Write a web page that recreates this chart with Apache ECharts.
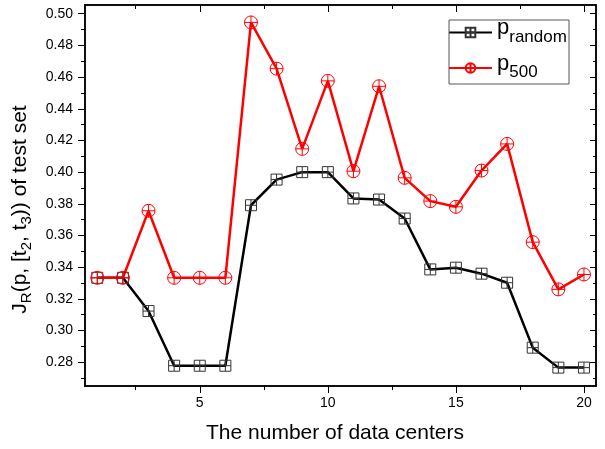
<!DOCTYPE html>
<html>
<head>
<meta charset="utf-8">
<script src="https://cdn.jsdelivr.net/npm/echarts@6/dist/echarts.min.js"></script>
<style>html,body{margin:0;padding:0;background:#fff}#c{width:605px;height:449px}</style>
</head>
<body>
<div id="c"></div>
<script>
var xValues = [1,2,3,4,5,6,7,8,9,10,11,12,13,14,15,16,17,18,19,20];
var pRandom = [0.3333,0.3333,0.3123,0.2778,0.2778,0.2778,0.3791,0.3953,0.4000,0.4000,0.3834,0.3827,0.3707,0.3386,0.3397,0.3359,0.3302,0.2892,0.2766,0.2766];
var p500 = [0.3333,0.3333,0.3756,0.3333,0.3333,0.3333,0.4945,0.4653,0.4147,0.4576,0.4006,0.4542,0.3964,0.3817,0.3781,0.4010,0.4178,0.3558,0.3260,0.3354];
var xMajorTicks = [5,10,15,20];
var xMinorTicks = [2.5,7.5,12.5,17.5];
var yMajorTicks = [0.28,0.30,0.32,0.34,0.36,0.38,0.40,0.42,0.44,0.46,0.48,0.50];
var yMinorTicks = [0.27,0.29,0.31,0.33,0.35,0.37,0.39,0.41,0.43,0.45,0.47,0.49];

var FONT = 'Liberation Sans, Arial, sans-serif';
var XMIN = 0.52, XMAX = 20.47, YMIN = 0.265, YMAX = 0.5055;

function pairs(ys){ return xValues.map(function(x,i){ return [x, ys[i]]; }); }

function xAx(pos, ticks, len, inside, labels){
  var o = {
    type:'value', position:pos, min:XMIN, max:XMAX, gridIndex:0,
    axisLine:{show:true, onZero:false, lineStyle:{color:'#000', width:1.5}},
    axisTick:{show:true, customValues:ticks, length:len, inside:inside, lineStyle:{color:'#000', width:1}},
    axisLabel:{show:false},
    splitLine:{show:false}
  };
  if (labels) {
    o.axisLabel = {show:true, customValues:ticks, margin:10, fontSize:14, color:'#000', fontFamily:FONT};
    o.name = 'The number of data centers';
    o.nameLocation = 'middle';
    o.nameGap = 37;
    o.nameTextStyle = {fontSize:21, color:'#000', fontFamily:FONT, padding:[0,11,0,0]};
  }
  return o;
}
function yAx(pos, ticks, len, inside, labels){
  var o = {
    type:'value', position:pos, min:YMIN, max:YMAX, gridIndex:0,
    axisLine:{show:true, onZero:false, lineStyle:{color:'#000', width:1.5}},
    axisTick:{show:true, customValues:ticks, length:len, inside:inside, lineStyle:{color:'#000', width:1}},
    axisLabel:{show:false},
    splitLine:{show:false}
  };
  if (labels) {
    o.axisLabel = {show:true, customValues:ticks, margin:12, fontSize:14, color:'#000', fontFamily:FONT,
      formatter:function(v){ return v.toFixed(2); }};
    o.name = '{a|J}{b|R}{a|(p, [t}{b|2}{a|, t}{b|3}{a|)) of test set}';
    o.nameLocation = 'middle';
    o.nameRotate = 90;
    o.nameGap = 43;
    o.nameTextStyle = {fontFamily:FONT, color:'#000', padding:[0,28,0,0],
      rich:{
        a:{fontSize:21, color:'#000', fontFamily:FONT},
        b:{fontSize:15, color:'#000', fontFamily:FONT, padding:[14,0,0,0]}
      }};
  }
  return o;
}

var squarePath = 'path://M0,0L10,0L10,10L0,10ZM5,0L5,10M0,5L10,5';
var circlePath = 'path://M10,5A5,5,0,1,1,0,5A5,5,0,1,1,10,5ZM5,0L5,10M0,5L10,5';

var chart = echarts.init(document.getElementById('c'), null, {renderer:'canvas'});
chart.setOption({
  animation:false,
  backgroundColor:'#fff',
  grid:{left:85, top:5, right:9, bottom:62, containLabel:false},
  xAxis:[
    xAx('bottom', xMajorTicks, 7, false, true),
    xAx('bottom', xMinorTicks, 4, false, false),
    xAx('top', xMajorTicks, 7, true, false),
    xAx('top', xMinorTicks, 4, true, false)
  ],
  yAxis:[
    yAx('left', yMajorTicks, 7, false, true),
    yAx('left', yMinorTicks, 4, false, false),
    yAx('right', yMajorTicks, 6, true, false),
    yAx('right', yMinorTicks, 3, true, false)
  ],
  legend:{
    left:448, top:17, orient:'vertical', padding:0, itemGap:7,
    itemWidth:43, itemHeight:12,
    data:['p_random','p_500'],
    textStyle:{color:'#000', fontFamily:FONT,
      rich:{
        p:{fontSize:22, color:'#000', fontFamily:FONT, padding:[0,0,9,0]},
        s:{fontSize:17, color:'#000', fontFamily:FONT, padding:[9,0,0,0]}
      }},
    formatter:function(n){ return n === 'p_random' ? '{p|p}{s|random}' : '{p|p}{s|500}'; }
  },
  graphic:[{type:'rect', shape:{x:449, y:20, width:120, height:64},
    style:{fill:'none', stroke:'#555', lineWidth:1}, z:100}],
  series:[
    {name:'p_random', type:'line', xAxisIndex:0, yAxisIndex:0, data:pairs(pRandom),
      symbol:squarePath, symbolSize:11, showAllSymbol:true,
      lineStyle:{color:'#000', width:2.5},
      itemStyle:{color:'rgba(0,0,0,0)', borderColor:'#333', borderWidth:1}},
    {name:'p_500', type:'line', xAxisIndex:0, yAxisIndex:0, data:pairs(p500),
      symbol:circlePath, symbolSize:13, showAllSymbol:true,
      lineStyle:{color:'#ff0000', width:2.5},
      itemStyle:{color:'rgba(0,0,0,0)', borderColor:'#ff0000', borderWidth:1}}
  ]
});
</script>
</body>
</html>
